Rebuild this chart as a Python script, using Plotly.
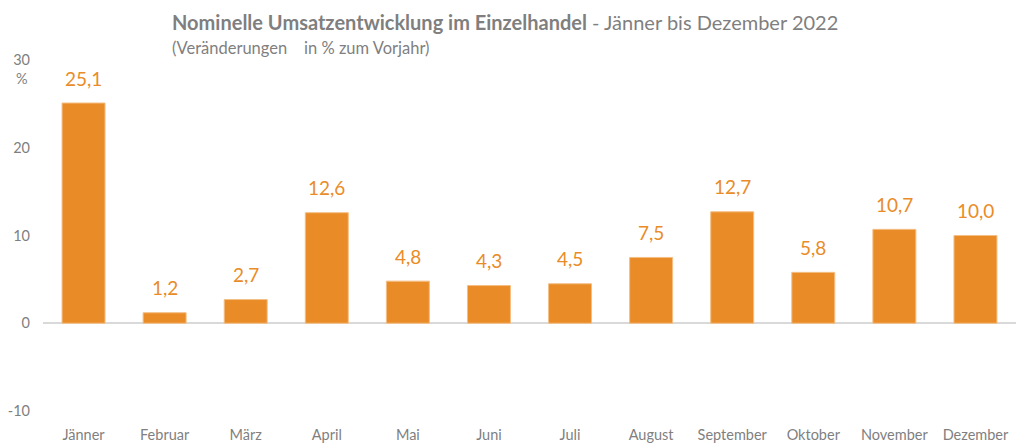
import plotly.graph_objects as go

months = ["Jänner", "Februar", "März", "April", "Mai", "Juni", "Juli",
          "August", "September", "Oktober", "November", "Dezember"]
values = [25.1, 1.2, 2.7, 12.6, 4.8, 4.3, 4.5, 7.5, 12.7, 5.8, 10.7, 10.0]
y_ticks = [-10, 0, 10, 20, 30]

orange = "#E98C28"
grey = "#7F7F7F"
font = "Lato, Calibri, sans-serif"

labels = [f"{v:.1f}".replace(".", ",") for v in values]

fig = go.Figure()
fig.add_trace(go.Bar(
    x=months, y=values,
    marker=dict(color=orange, line=dict(color="#F4BE84", width=1)),
    hoverinfo="skip",
))

# value labels above the bars
for m, v, t in zip(months, values, labels):
    fig.add_annotation(x=m, y=v, text=t, yshift=25, showarrow=False,
                       yanchor="middle",
                       font=dict(color=orange, size=19, family=font))

fig.update_layout(
    width=1016, height=443,
    margin=dict(l=43, r=0, t=60, b=32),
    paper_bgcolor="white", plot_bgcolor="white",
    bargap=0.47,
    showlegend=False,
    font=dict(family=font, color=grey, size=14.5),
)
fig.update_xaxes(showgrid=False, showline=False, ticks="",
                 tickfont=dict(size=14.5, color=grey), ticklabelstandoff=13)
fig.update_yaxes(range=[-10, 30], tickvals=y_ticks,
                 ticktext=[str(t) for t in y_ticks], showgrid=False,
                 zeroline=True, zerolinecolor="#D9D9D9", zerolinewidth=2,
                 layer="above traces", tickfont=dict(size=14.5, color=grey),
                 ticklabelstandoff=12)

fig.add_annotation(
    text="<b>Nominelle Umsatzentwicklung im Einzelhandel</b> - Jänner bis Dezember 2022",
    xref="paper", yref="paper", x=(170 - 43) / 973, y=1, yanchor="middle", yshift=38,
    xanchor="left", showarrow=False, font=dict(size=20, color=grey, family=font))
fig.add_annotation(
    text="(Veränderungen    in % zum Vorjahr)",
    xref="paper", yref="paper", x=(170 - 43) / 973, y=1, yanchor="middle", yshift=12,
    xanchor="left", showarrow=False, font=dict(size=16.5, color=grey, family=font))
fig.add_annotation(
    text="%", xref="paper", yref="paper", x=0, xshift=-21, y=1, yshift=-18,
    xanchor="center", yanchor="middle", showarrow=False,
    font=dict(size=14.5, color=grey, family=font))

fig.write_html("out.html", config={"displayModeBar": False},
               post_script="document.body.style.margin='0';")
